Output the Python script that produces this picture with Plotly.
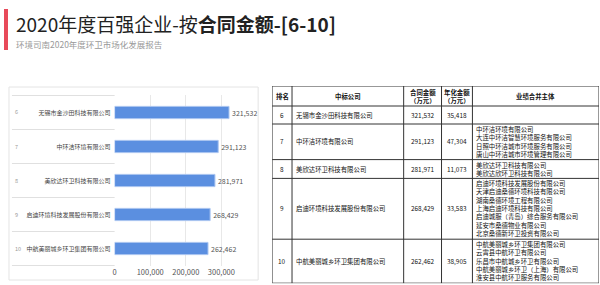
import plotly.graph_objects as go

# ---------------- data ----------------
ranks = ['6', '7', '8', '9', '10']
companies = ['无锡市金沙田科技有限公司', '中环洁环境有限公司', '美欣达环卫科技有限公司',
             '启迪环境科技发展股份有限公司', '中航美丽城乡环卫集团有限公司']
contract_amount = [321532, 291123, 281971, 268429, 262462]
annual_amount = [35418, 47304, 11073, 33583, 38905]
merged_entities = [
    [],
    ['中环洁环境有限公司', '大连中环洁智慧环境服务有限公司', '日照中环洁城市环境服务有限公司',
     '唐山中环洁城市环境管理有限公司'],
    ['美欣达环卫科技有限公司', '美欣达欣环卫科技有限公司'],
    ['启迪环境科技发展股份有限公司', '天津启迪桑德环境科技有限公司', '湖南桑德环境工程有限公司',
     '上海启迪环境科技有限公司', '启迪城服（青岛）综合服务有限公司', '延安市桑德物业有限公司',
     '北京桑德新环卫投资有限公司'],
    ['中航美丽城乡环卫集团有限公司', '云霄县中航环卫有限公司', '乐昌市中航城乡环卫有限公司',
     '中航美丽城乡环卫（上海）有限公司', '淮安县中航环卫服务有限公司'],
]
x_ticks = [0, 100000, 200000, 300000]
table_headers = ['排名', '中标公司', '合同金额<br>（万元）', '年化金额<br>（万元）', '业绩合并主体']
title_plain = '2020年度百强企业-按'
title_bold = '合同金额-[6-10]'
subtitle = '环境司南2020年度环卫市场化发展报告'

# ---------------- layout helpers ----------------
W, H = 600, 285
FONT = 'Noto Sans CJK SC'


def px_x(p):
    return p / W


def px_y(p):
    return 1 - p / H


fig = go.Figure()

# ---------------- bar chart ----------------
fig.add_trace(go.Bar(
    x=contract_amount, y=companies, orientation='h',
    marker=dict(color='#5b8fe0', line=dict(color='#a9c4f0', width=1)),
    text=[f'{v:,}' for v in contract_amount], textposition='outside',
    textfont=dict(size=7, color='#555', family=FONT),
    cliponaxis=False, xaxis='x', yaxis='y', showlegend=False,
    hoverinfo='skip',
))

shapes = []
annotations = []

# panel border
shapes.append(dict(type='rect', xref='paper', yref='paper',
                   x0=px_x(7), x1=px_x(257), y0=px_y(280), y1=px_y(87),
                   line=dict(color='#e4e4e4', width=1), fillcolor='rgba(0,0,0,0)', layer='below'))
# row separators in label area
for i in range(len(companies) + 1):
    shapes.append(dict(type='line', xref='paper', yref='y',
                       x0=px_x(10), x1=px_x(113), y0=i - 0.5, y1=i - 0.5,
                       line=dict(color='#e0e0e0', width=1)))
# rank labels
for r, c in zip(ranks, companies):
    annotations.append(dict(xref='paper', yref='y', x=px_x(11), y=c, text=r,
                            xanchor='left', yanchor='middle', showarrow=False,
                            font=dict(size=5.5, color='#999', family=FONT)))

# ---------------- table ----------------
col_w = [20, 112, 38, 31, 127]
col_align = ['center', 'left', 'center', 'center', 'left']
col_edges = [0]
for w in col_w:
    col_edges.append(col_edges[-1] + w)
table_w = col_edges[-1]

header_h = 20
row_h = [max(18, 8.4 * len(m) + 2) for m in merged_entities]
heights = [header_h] + row_h
row_edges = [0]
for h in heights:
    row_edges.append(row_edges[-1] + h)
table_h = row_edges[-1]
table_top = 86

for y in row_edges:
    shapes.append(dict(type='line', xref='x2', yref='y2', x0=0, x1=table_w, y0=y, y1=y,
                       line=dict(color='#333', width=1)))
for x in col_edges:
    shapes.append(dict(type='line', xref='x2', yref='y2', x0=x, x1=x, y0=0, y1=table_h,
                       line=dict(color='#333', width=1)))


def cell_ann(text, ci, ri, bold=False):
    x0, x1 = col_edges[ci], col_edges[ci + 1]
    yc = (row_edges[ri] + row_edges[ri + 1]) / 2
    if col_align[ci] == 'left' and not bold:
        x, xa = x0 + 2, 'left'
    else:
        x, xa = (x0 + x1) / 2, 'center'
    return dict(xref='x2', yref='y2', x=x, y=yc, text=f'<b>{text}</b>' if bold else text,
                xanchor=xa, yanchor='middle', align='left' if xa == 'left' else 'center',
                showarrow=False, font=dict(size=6.4, color='#111', family=FONT))


for ci, h in enumerate(table_headers):
    annotations.append(cell_ann(h, ci, 0, bold=True))
for i in range(len(ranks)):
    vals = [ranks[i], companies[i], f'{contract_amount[i]:,}', f'{annual_amount[i]:,}',
            '<br>'.join(merged_entities[i])]
    for ci, v in enumerate(vals):
        if v:
            annotations.append(cell_ann(v, ci, i + 1))

# ---------------- title ----------------
shapes.append(dict(type='rect', xref='paper', yref='paper',
                   x0=px_x(2), x1=px_x(6), y0=px_y(50), y1=px_y(9),
                   line=dict(width=0), fillcolor='#e84a5a'))
annotations.append(dict(xref='paper', yref='paper', x=px_x(12), y=px_y(8),
                        text=f'{title_plain}<b>{title_bold}</b>', xanchor='left', yanchor='top',
                        showarrow=False, font=dict(size=19, color='#222', family=FONT)))
annotations.append(dict(xref='paper', yref='paper', x=px_x(12), y=px_y(36),
                        text=subtitle, xanchor='left', yanchor='top',
                        showarrow=False, font=dict(size=8.5, color='#999', family=FONT)))

fig.update_layout(
    width=W, height=H, margin=dict(l=0, r=0, t=0, b=0),
    paper_bgcolor='white', plot_bgcolor='white',
    bargap=0.64,
    font=dict(family=FONT),
    xaxis=dict(domain=[px_x(113), px_x(254)], range=[0, 395000], tickvals=x_ticks,
               tickformat=',', showgrid=True, gridcolor='#e8e8e8', zeroline=True,
               zerolinecolor='white', showline=False, ticks='',
               tickfont=dict(size=7.5, color='#555', family=FONT), anchor='y'),
    yaxis=dict(domain=[px_y(266), px_y(95)], type='category', autorange='reversed',
               showgrid=False, zeroline=False, ticks='', showline=False,
               tickfont=dict(size=6, color='#444', family=FONT), anchor='x',
               ticklabelstandoff=3),
    xaxis2=dict(domain=[px_x(271), px_x(599)], range=[0, table_w], visible=False,
                anchor='y2', fixedrange=True),
    yaxis2=dict(domain=[px_y(table_top + table_h), px_y(table_top)], range=[table_h, 0],
                visible=False, anchor='x2', fixedrange=True),
    shapes=shapes, annotations=annotations,
)

fig.write_html('out.html')
